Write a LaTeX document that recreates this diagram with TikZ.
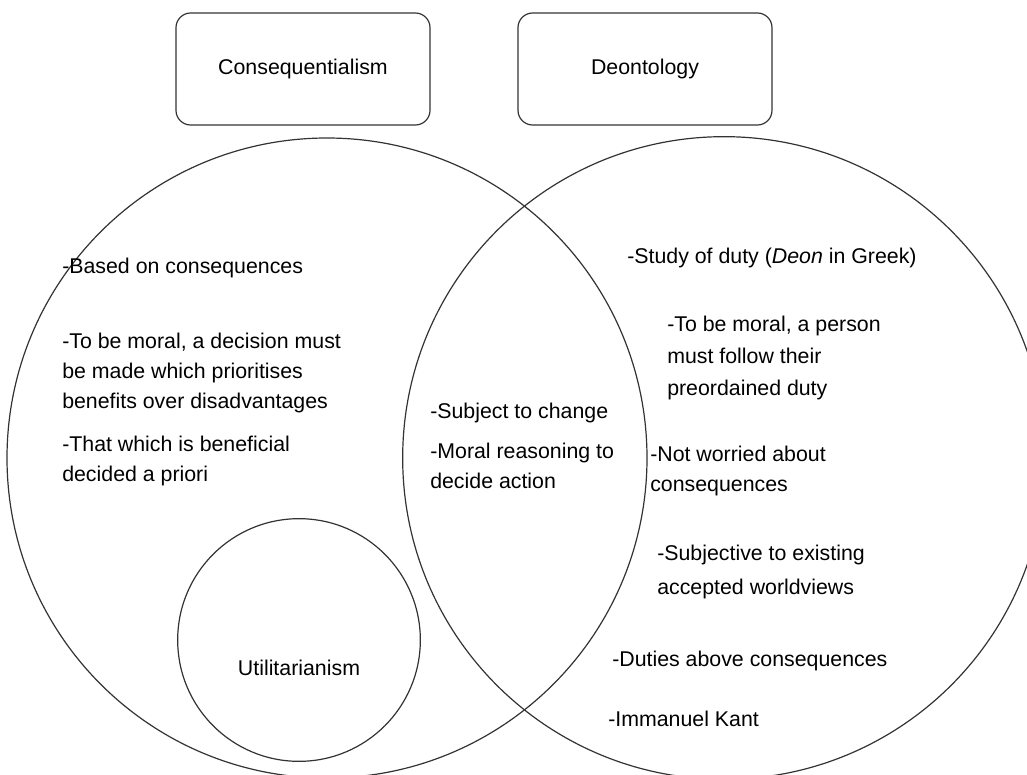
\documentclass[tikz,border=0pt]{standalone}
\usepackage{fontspec}
\setmainfont{Liberation Sans}

\tikzset{
  ring/.style={draw=black!80, line width=0.9pt},
  titlebox/.style={draw=black!80, line width=0.9pt, rounded corners=11pt, minimum width=190.5pt, minimum height=84pt, font=\fontsize{16}{22.5}\selectfont},
  point/.style={align=left, inner sep=0pt, anchor=base west, font=\fontsize{16}{22.5}\selectfont},
}

\begin{document}
\begin{tikzpicture}[x=0.75pt, y=-0.75pt]
  %%%%% START %%%%%
  \useasboundingbox (0,0) rectangle (1027,774);

  \node[titlebox] (conseq) at (303,69) {Consequentialism};
  \node[titlebox] (deon) at (645,69) {Deontology};

  \draw[ring] (327,458) circle[radius=240pt];
  \draw[ring] (724,458) circle[radius=241pt];
  \draw[ring] (299,640) circle[radius=91pt];

  % left circle (base = last line)
  \node[point] (based) at (62,273) {-Based on consequences};
  \node[point] (decision) at (62,408) {-To be moral, a decision must\\be made which prioritises\\benefits over disadvantages};
  \node[point] (benefit) at (62,481) {-That which is beneficial\\decided a priori};
  \node[font=\fontsize{16}{22.5}\selectfont] (util) at (299,668) {Utilitarianism};

  % overlap
  \node[point] (change) at (430,418) {-Subject to change};
  \node[point] (reason) at (430,488) {-Moral reasoning to\\decide action};

  % right circle
  \node[point] (duty) at (627,263) {-Study of duty (\textit{Deon} in Greek)};
  \node[point, font=\fontsize{16}{24}\selectfont] (person) at (667,395) {-To be moral, a person\\must follow their\\preordained duty};
  \node[point] (worry) at (650,491) {-Not worried about\\consequences};
  \node[point, font=\fontsize{16}{25}\selectfont] (subj) at (657,594) {-Subjective to existing\\accepted worldviews};
  \node[point] (above) at (612,666) {-Duties above consequences};
  \node[point] (kant) at (608,726) {-Immanuel Kant};
  %%%%% END %%%%%
\end{tikzpicture}
\end{document}
